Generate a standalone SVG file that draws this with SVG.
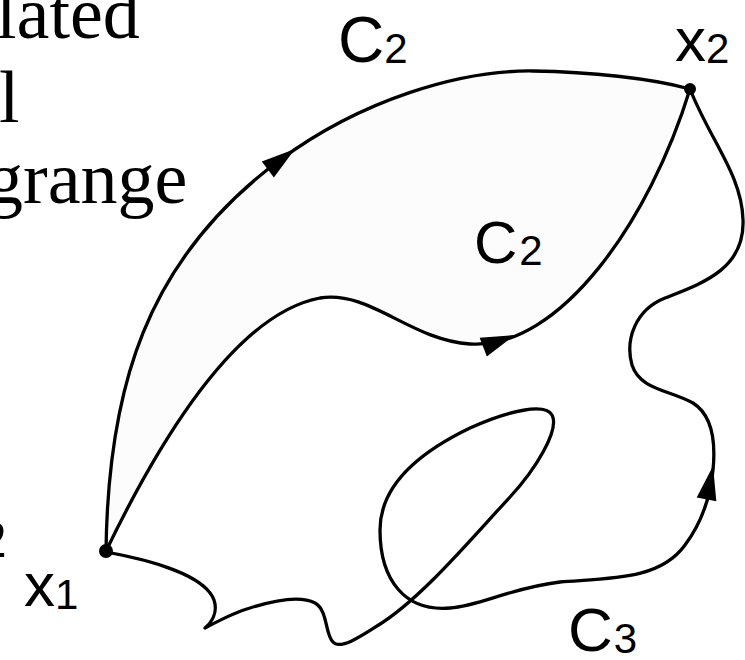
<svg xmlns="http://www.w3.org/2000/svg" xmlns:xlink="http://www.w3.org/1999/xlink" width="745" height="660" viewBox="0 0 745 660">
<style>
.curve{fill:none;stroke:#000;stroke-width:3.3;stroke-linejoin:round;stroke-linecap:round}
.serif{font-family:"Liberation Serif","Times New Roman",serif;fill:#000}
.lab{font-family:"Liberation Sans",Arial,sans-serif;fill:#000}
.sub{font-size:42px}
</style>
<defs>
<path id="ah" d="M0,0 L-34,-10 L-34,10 Z" fill="#000"/>
</defs>
<rect width="745" height="660" fill="#fff"/>
<g id="background-text">
<text class="serif" x="-4" y="38" font-size="74">lated</text>
<text class="serif" x="-1" y="122" font-size="74">l</text>
<text class="serif" x="-14" y="203" font-size="74">grange</text>
<text class="serif" x="-19" y="557" font-size="52">2</text>
</g>
<path id="shaded-region" d="M106,551 C108,390 145,260 280,160 C361,100 460,70 533,71 C590,72 650,78 690,89 C650,220 560,350 470,344 C410,340 370,290 320,298 C230,315 150,460 106,551 Z" fill="#fcfcfc" stroke="none"/>
<g id="connectors">
<path id="c2-outer" class="curve" d="M106,551 C108,390 145,260 280,160 C361,100 460,70 533,71 C590,72 650,78 690,89"/>
<path id="c2-inner" class="curve" d="M106,551 C150,460 230,315 320,298 C370,290 410,340 470,344 C560,350 650,220 690,89"/>
<path id="c3" class="curve" d="M106,552 C150,560 205,575 214,600 C218,612 212,622 205,628 C220,620 235,612 250,608 C275,600 300,595 315,603 C328,610 325,635 333,642 C340,650 360,637 377,626 C420,600 470,540 510,497 C535,470 560,430 552,415 C545,403 510,410 470,428 C420,452 380,485 380,530 C380,580 405,612 450,608 C480,606 510,588 560,582 C610,578 660,580 685,545 C700,525 710,500 713,470 C716,440 712,415 693,403 C670,390 640,390 632,365 C625,340 635,310 665,298 C700,284 745,270 743,220 C742,175 710,140 690,89"/>
<use xlink:href="#ah" transform="translate(295,149) rotate(-37)"/>
<use xlink:href="#ah" transform="translate(515,335) rotate(-21)"/>
<use xlink:href="#ah" transform="translate(713,466) rotate(-79)"/>
</g>
<g id="x1">
<circle cx="106" cy="551" r="7" fill="#000"/>
<text class="lab" x="24" y="606" font-size="62">x<tspan class="sub" dy="3">1</tspan></text>
</g>
<g id="x2">
<circle cx="690" cy="89" r="6" fill="#000"/>
<text class="lab" x="675" y="61" font-size="62">x<tspan class="sub" dy="2">2</tspan></text>
</g>
<g id="label-c2-top">
<text class="lab" x="338" y="62" font-size="64">C<tspan class="sub" dy="1">2</tspan></text>
</g>
<g id="label-c2-mid">
<text class="lab" x="474" y="263" font-size="60">C<tspan class="sub" dx="2" dy="2">2</tspan></text>
</g>
<g id="label-c3">
<text class="lab" x="568" y="651" font-size="62">C<tspan class="sub" dx="1" dy="2">3</tspan></text>
</g>
</svg>
